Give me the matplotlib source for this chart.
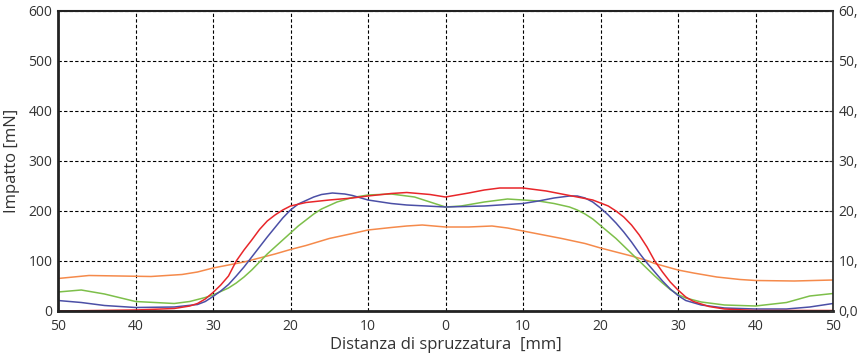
import numpy as np
import matplotlib.pyplot as plt
from matplotlib.ticker import FuncFormatter

plt.rcParams['font.family'] = ['Open Sans', 'DejaVu Sans']

# distance from nozzle axis [mm]
x_red = [-50, -45, -40, -35, -33, -32, -31, -30, -29, -28, -27, -26, -25, -24, -23, -22, -21, -20,
         -18, -15, -12, -10, -7, -5, -2, 0, 3, 5, 7, 10, 13, 15, 17, 19, 20, 21, 22, 23, 24, 25,
         26, 27, 28, 29, 30, 31, 32, 34, 36, 40, 50]
red = [0, 1, 2, 5, 10, 15, 24, 37, 52, 70, 100, 122, 142, 163, 180, 192, 202, 210,
       217, 222, 226, 230, 235, 237, 233, 228, 236, 242, 246, 246, 240, 234, 228, 222, 216, 210, 200, 188, 172, 152,
       128, 100, 78, 58, 42, 28, 19, 9, 4, 1, 1]

x_blue = [-50, -47, -44, -40, -35, -32, -31, -30, -29, -28, -27, -26, -25, -24, -23, -22, -21, -20,
          -19, -17, -16, -14.6, -13, -12, -10, -7, -5, 0, 5, 10, 12, 14, 16, 17, 18, 19, 20, 21, 22,
          23, 24, 25, 26, 27, 28, 29, 30, 31, 33, 36, 40, 44, 47, 50]
blue = [21, 17, 11, 7, 8, 13, 19, 29, 40, 53, 70, 88, 108, 128, 148, 167, 186, 202,
        214, 228, 233, 236, 234, 231, 222, 215, 212, 208, 210, 215, 220, 226, 230, 230, 226, 218, 206, 192, 176,
        158, 138, 116, 96, 78, 60, 44, 31, 21, 12, 6, 4, 4, 8, 15]

x_green = [-50, -47, -44, -40, -35, -33, -31, -30, -28, -27, -26, -25, -24, -23, -22, -21, -20, -19,
           -17, -16, -14, -12, -10, -7, -4, -2, -1, 0, 2, 5, 8, 10, 12, 14, 16, 17, 18, 19, 20, 21, 22,
           23, 24, 25, 26, 27, 28, 29, 30, 31, 33, 36, 40, 44, 47, 50]
green = [38, 42, 34, 19, 15, 19, 27, 32, 46, 56, 68, 82, 98, 114, 128, 142, 156, 170,
         194, 204, 218, 227, 232, 234, 228, 218, 213, 208, 210, 218, 224, 222, 220, 215, 208, 202, 194, 184, 171, 158, 145,
         130, 115, 100, 85, 70, 56, 43, 33, 26, 18, 12, 10, 17, 30, 35]

x_orange = [-50, -46, -42, -38, -34, -32, -30, -28, -26, -24, -22, -20, -18, -15, -12, -10, -7, -5,
            -3, 0, 3, 6, 8, 10, 12, 15, 18, 20, 22, 24, 26, 27, 30, 32, 35, 38, 40, 45, 50]
orange = [65, 71, 70, 69, 73, 78, 86, 92, 98, 106, 114, 123, 131, 145, 155, 162, 167, 170,
          172, 168, 168, 170, 166, 160, 154, 145, 135, 126, 118, 110, 101, 95, 82, 76, 68, 63, 61, 60, 62]

fig = plt.figure(figsize=(8.57, 3.58), dpi=100)
ax = fig.add_axes([58 / 857, 47 / 358, 775 / 857, 300 / 358])

ax.plot(x_orange, orange, color='#f58a4b', lw=1.1)
ax.plot(x_green, green, color='#7dbf4a', lw=1.1)
ax.plot(x_blue, blue, color='#4b4fa6', lw=1.1)
ax.plot(x_red, red, color='#e8262a', lw=1.1)

ax.set_xlim(-50, 50)
ax.set_ylim(0, 600)
ax.set_xticks(np.arange(-50, 51, 10))
ax.set_yticks(np.arange(0, 601, 100))
ax.xaxis.set_major_formatter(FuncFormatter(lambda v, p: f"{abs(int(round(v)))}"))
ax.grid(True, color='black', linestyle=(0, (3, 2)), linewidth=0.8)
ax.tick_params(axis='both', length=0, labelsize=10, colors='#333333')
ax.tick_params(axis='x', pad=6)
ax.tick_params(axis='y', pad=4)

for side, w in [('left', 2.0), ('bottom', 2.0), ('top', 1.5), ('right', 1.2)]:
    ax.spines[side].set_linewidth(w)
    ax.spines[side].set_color('#222222')

ax.set_ylabel("Impatto [mN]", fontsize=12, color='#333333', labelpad=6)
ax.set_xlabel("Distanza di spruzzatura  [mm]", fontsize=12, color='#333333', labelpad=2)

ax2 = ax.twinx()
ax2.set_ylim(0, 60)
ax2.set_yticks(np.arange(0, 61, 10))
ax2.yaxis.set_major_formatter(FuncFormatter(lambda v, p: f"{v:.1f}".replace('.', ',')))
ax2.tick_params(axis='y', length=3, direction='in', labelsize=10, colors='#333333', pad=4)
for s in ax2.spines.values():
    s.set_visible(False)

fig.savefig("out.png", dpi=100)
